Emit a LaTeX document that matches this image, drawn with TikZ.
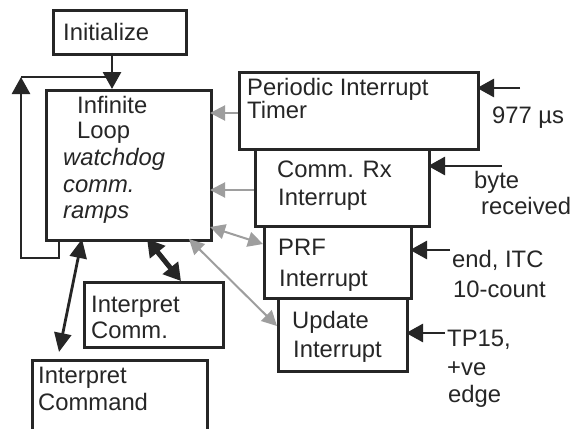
\documentclass[tikz,border=0pt]{standalone}
\usepackage{fontspec}
\setmainfont{Liberation Sans}
\usetikzlibrary{arrows.meta,calc}
\begin{document}
\begin{tikzpicture}[x=1pt,y=-1pt,
  box/.style={draw=black!85,line width=3.2pt,rectangle,inner sep=0pt,anchor=north west},
  txt/.style={anchor=base west,inner sep=0pt,font=\fontsize{23.8}{27}\selectfont,text=black!85},
  itx/.style={txt,font=\fontsize{23.8}{27}\selectfont\itshape},
  blk/.style={draw=black!85,line width=2.8pt,-{Triangle[length=17pt,width=18pt]}},
  gry/.style={draw=black!38,line width=2pt,{Triangle[length=15pt,width=15pt]}-{Triangle[length=15pt,width=15pt]}},
  gryone/.style={draw=black!38,line width=2pt,-{Triangle[length=15pt,width=15pt]}}]
\clip (0,0) rectangle (580,428);
\fill[white] (0,0) rectangle (580,428);
% boxes
\node[box,minimum width=133pt,minimum height=44pt] (init) at (52,9) {};
\node[box,minimum width=165pt,minimum height=150pt] (loop) at (45,89) {};
\node[box,minimum width=239pt,minimum height=77pt] (pit) at (238,71) {};
\node[box,minimum width=174pt,minimum height=77pt] (comm) at (254,148) {};
\node[box,minimum width=147pt,minimum height=72pt] (prf) at (263,225) {};
\node[box,minimum width=129pt,minimum height=73pt] (upd) at (277,297) {};
\node[box,minimum width=139pt,minimum height=65pt] (ic) at (83,281) {};
\node[box,minimum width=175pt,minimum height=90pt] (icmd) at (31,359) {};
% texts
\node[txt] (tinit) at (63,41) {Initialize};
\node[txt] (tl1) at (77,113) {Infinite};
\node[txt] (tl2) at (77,138) {Loop};
\node[itx] (tl3) at (63,165) {watchdog};
\node[itx] (tl4) at (63,192) {comm.};
\node[itx] (tl5) at (63,218) {ramps};
\node[txt] (tp1) at (247,95) {Periodic Interrupt};
\node[txt] (tp2) at (247,118) {Timer};
\node[txt] (tp3) at (492,123) {977 µs};
\node[txt] (tc1) at (277,177) {Comm. Rx};
\node[txt] (tc2) at (278,205) {Interrupt};
\node[txt] (tc3) at (474,188) {byte};
\node[txt] (tc4) at (481,214) {received};
\node[txt] (tr1) at (278,255) {PRF};
\node[txt] (tr2) at (279,286) {Interrupt};
\node[txt] (tr3) at (452,267) {end, ITC};
\node[txt] (tr4) at (453,297) {10-count};
\node[txt] (tu1) at (292,328) {Update};
\node[txt] (tu2) at (293,357) {Interrupt};
\node[txt] (tu3) at (447,346) {TP15,};
\node[txt] (tu4) at (447,375) {+ve};
\node[txt] (tu5) at (448,402) {edge};
\node[txt] (ti1) at (91,312) {Interpret};
\node[txt] (ti2) at (91,338) {Comm.};
\node[txt] (tm1) at (38,383) {Interpret};
\node[txt] (tm2) at (38,410) {Command};
% coordinates
\coordinate (fbstart) at (59,239);
\coordinate (fbtop) at (21,77);
\coordinate (initout) at (112,53);
\coordinate (loopin) at (112,89);
\coordinate (a977) at (520,88);
\coordinate (t977) at (477,88);
\coordinate (abyte) at (502,166);
\coordinate (tbyte) at (428,166);
\coordinate (aend) at (450,250);
\coordinate (tend) at (410,250);
\coordinate (atp) at (445,333);
\coordinate (ttp) at (406,333);
% black connectors
\draw[blk] (initout) -- (loopin);
\draw[draw=black!85,line width=2.8pt] (fbtop) -- (112,77);
\draw[blk] (fbstart) -- (59,258) -- (21,258) -- (fbtop);
\draw[blk] (a977) -- (t977);
\draw[blk] (abyte) -- (tbyte);
\draw[blk] (aend) -- (tend);
\draw[blk] (atp) -- (ttp);
\draw[draw=black!85,line width=2.8pt,{Triangle[length=19pt,width=17pt]}-{Triangle[length=19pt,width=17pt]}] (82,239) -- (59,352);
\draw[draw=black!85,line width=5pt,{Triangle[length=17pt,width=19pt]}-{Triangle[length=17pt,width=19pt]}] (147,239) -- (181,281);
% gray connectors
\draw[gryone] (238,113) -- (210,113);
\draw[gryone] (254,190) -- (210,190);
\draw[gry] (210,227) -- (263,244);
\draw[gry] (189,239) -- (277,326);
\end{tikzpicture}
\end{document}
